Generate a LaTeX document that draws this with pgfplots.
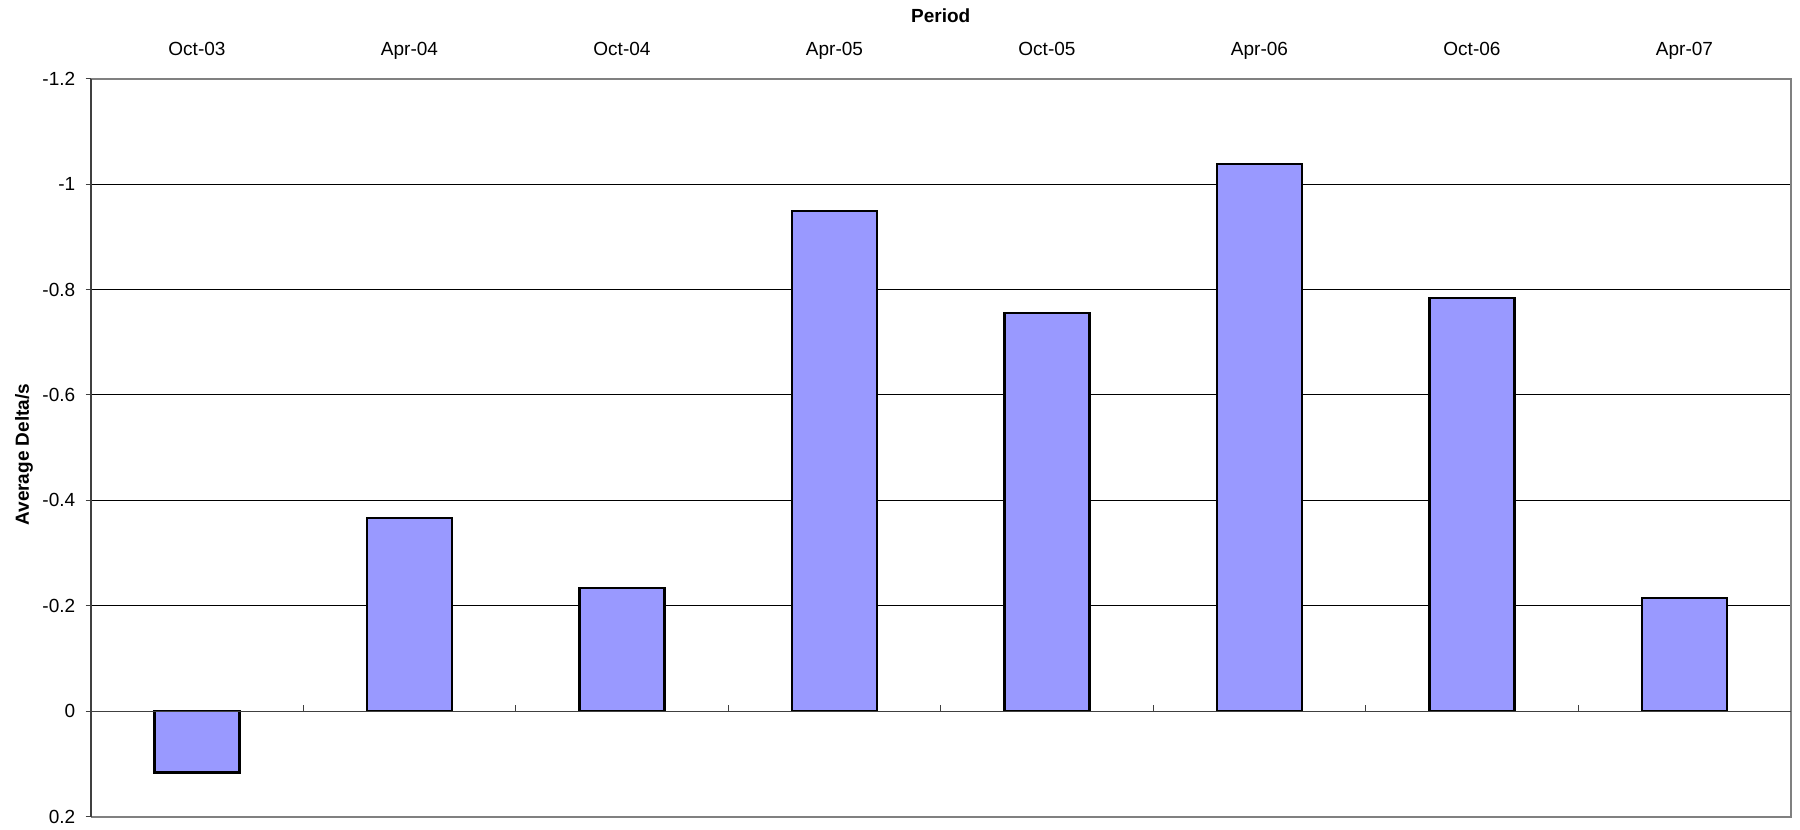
\documentclass[border=0pt]{standalone}
\usepackage{fontspec}
\setmainfont{Liberation Sans}
\usepackage{pgfplots}
\pgfplotsset{compat=1.18}
\definecolor{barfill}{HTML}{9999FF}
\definecolor{framegray}{HTML}{808080}
\definecolor{axisdark}{HTML}{404040}
\begin{document}
\begin{tikzpicture}[font=\fontsize{9.5pt}{11pt}\selectfont]
\begin{axis}[
  scale only axis, width=850pt, height=369pt,
  xmin=0, xmax=8, ymin=-1.2, ymax=0.2, y dir=reverse,
  axis line style={draw=none},
  xtick={0.5,1.5,2.5,3.5,4.5,5.5,6.5,7.5},
  xticklabels={Oct-03,Apr-04,Oct-04,Apr-05,Oct-05,Apr-06,Oct-06,Apr-07},
  xticklabel pos=upper,
  xtick style={draw=none},
  xticklabel style={anchor=base, yshift=11.35pt},
  ytick={-1.2,-1,-0.8,-0.6,-0.4,-0.2,0,0.2},
  yticklabels={-1.2,-1,-0.8,-0.6,-0.4,-0.2,0,0.2},
  ytick pos=left,
  ytick align=outside, major tick length=2.5pt,
  ytick style={axisdark, line width=0.5pt},
  yticklabel style={xshift=-1.7pt},
  ymajorgrids, grid style={black, line width=0.5pt},
  ylabel={Average Delta/s},
  ylabel style={font=\fontsize{9.5pt}{11pt}\selectfont\bfseries, at={(axis description cs:-0.0392,0.4906)}, anchor=center},
  clip=false,
]
% average delta per half-year period
\addplot[ybar, bar width=0.4, fill=barfill, draw=black, line width=1.1pt]
  coordinates {(0.5,0.116) (1.5,-0.367) (2.5,-0.234) (3.5,-0.949)
               (4.5,-0.756) (5.5,-1.038) (6.5,-0.784) (7.5,-0.215)};
% plot area frame
\draw[framegray, line width=1pt] (axis cs:0,-1.2) -- (axis cs:8,-1.2) -- (axis cs:8,0.2) -- (axis cs:0,0.2);
\draw[axisdark, line width=0.9pt] (axis cs:0,-1.2) -- (axis cs:0,0.2);
% category axis on the zero line
\draw[axisdark, line width=0.6pt] (axis cs:0,0) -- (axis cs:8,0);
\pgfplotsinvokeforeach{1,...,7}{\draw[axisdark, line width=0.5pt] (axis cs:#1,0) -- ([yshift=3.3pt]axis cs:#1,0);}
\node[font=\fontsize{9.5pt}{11pt}\selectfont\bfseries, anchor=base] at ([yshift=27.85pt]axis cs:4,-1.2) {Period};
\end{axis}
\pgfresetboundingbox
\path[use as bounding box] (-45.35pt,-6.65pt) rectangle (854.65pt,408.35pt);
\end{tikzpicture}
\end{document}
